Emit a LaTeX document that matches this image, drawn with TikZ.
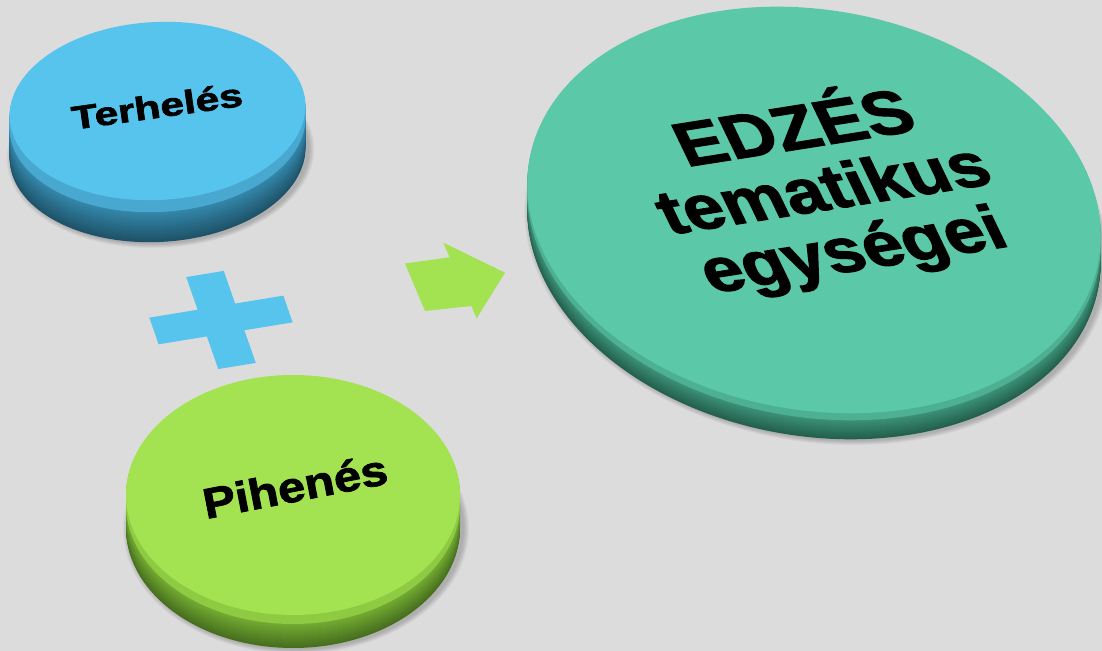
\documentclass[tikz,border=0pt]{standalone}
\usepackage{fontspec}
\setmainfont{Liberation Sans}[BoldFeatures={FakeBold=1.8}]
\begin{document}
\begin{tikzpicture}[x=0.03cm,y=0.03cm,
  lbl/.style={inner sep=0pt, text=black}]
\definecolor{bg}{RGB}{220,220,220}
% puck colours: top face, bevel rim, upper side, lower side
\definecolor{bluetop}{RGB}{86,196,236}
\definecolor{bluerim}{RGB}{72,168,208}
\definecolor{blueside}{RGB}{52,136,172}
\definecolor{bluedark}{RGB}{30,82,104}
\definecolor{greentop}{RGB}{163,226,80}
\definecolor{greenrim}{RGB}{142,202,66}
\definecolor{greenside}{RGB}{116,172,50}
\definecolor{greendark}{RGB}{70,110,30}
\definecolor{tealtop}{RGB}{91,200,168}
\definecolor{tealrim}{RGB}{78,176,146}
\definecolor{tealside}{RGB}{60,146,118}
\definecolor{tealdark}{RGB}{35,95,78}

% #1,#2 centre of top face, #3,#4 radii, #5 tilt, #6 depth, #7 bevel, #8 colour prefix
\newcommand{\puck}[8]{%
  \foreach \k in {1,...,6}{%
    \fill[black,opacity=0.035,shift={(#1+3,#2-#6-1)},rotate=#5]
      (0,0) ellipse [x radius=#3+\k, y radius=#4+0.8*\k];}
  \foreach \i in {#6,...,1}{%
    \ifnum\i>#7
      \pgfmathtruncatemacro\shadeamt{100*(\i-#7)/(#6-#7)}%
      \fill[#8dark!\shadeamt!#8side, shift={(#1,#2-\i)}, rotate=#5]
        (0,0) ellipse [x radius=#3, y radius=#4];
    \else
      \fill[#8rim, shift={(#1,#2-\i)}, rotate=#5]
        (0,0) ellipse [x radius=#3, y radius=#4];
    \fi}
  \fill[#8top, shift={(#1,#2)}, rotate=#5]
    (0,0) ellipse [x radius=#3, y radius=#4];
}

\fill[bg] (0,0) rectangle (1102,651);
\useasboundingbox (0,0) rectangle (1102,651);

% the three pucks
\puck{157.5}{540}{148}{89}{3}{42}{12}{blue}
\puck{293}{156}{167}{120}{0}{33}{9}{green}
\puck{814}{441}{289}{200}{-10}{26}{7}{teal}

% plus sign, lying in the plane of the pucks
\fill[bluetop, cm={67,11,16,-46,(221,331)}]
  (-1,-0.29) -- (-0.28,-0.29) -- (-0.28,-1) -- (0.28,-1) -- (0.28,-0.29)
  -- (1,-0.29) -- (1,0.29) -- (0.28,0.29) -- (0.28,1) -- (-0.28,1)
  -- (-0.28,0.29) -- (-1,0.29) -- cycle;

% block arrow
\fill[greentop] (405,387.5) -- (449.7,393.7) -- (443.3,408.3) -- (505,378.3)
  -- (476.7,332.7) -- (471.3,345) -- (425,340) -- cycle;

% labels
\node[lbl, font=\bfseries\fontsize{28}{30}\selectfont,
  shift={(157,545)}, rotate=8, xscale=1.3] (terheles) at (0,0) {Terhelés};
\node[lbl, font=\bfseries\fontsize{36.5}{38}\selectfont,
  shift={(295,165)}, rotate=11, xscale=1.14] (pihenes) at (0,0) {Pihenés};
\node[lbl, font=\bfseries\fontsize{54}{55}\selectfont, align=center,
  shift={(823,462)}, rotate=9, xslant=-0.3, xscale=1.12] (edzes) at (0,0)
  {EDZÉS\\tematikus\\egységei};
\end{tikzpicture}
\end{document}
